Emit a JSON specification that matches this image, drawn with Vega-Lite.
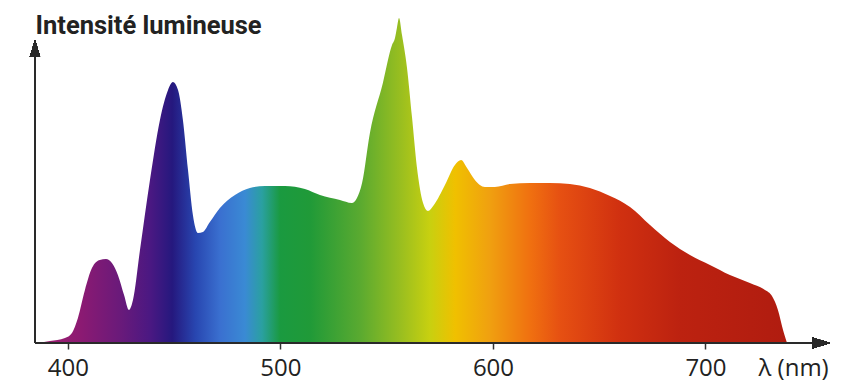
{
  "$schema": "https://vega.github.io/schema/vega-lite/v6.json",
  "width": 795,
  "height": 333,
  "autosize": "none",
  "padding": {"left": 35, "top": 10, "right": 20, "bottom": 48},
  "background": "white",
  "config": {"view": {"stroke": null}},
  "data": {"values": [
    {"lambda": 386, "intensity": 0},
    {"lambda": 391.5, "intensity": 2},
    {"lambda": 398.6, "intensity": 5},
    {"lambda": 401.9, "intensity": 10},
    {"lambda": 404.7, "intensity": 25},
    {"lambda": 408, "intensity": 53},
    {"lambda": 411.3, "intensity": 75},
    {"lambda": 415, "intensity": 83},
    {"lambda": 417.9, "intensity": 84},
    {"lambda": 420.7, "intensity": 80},
    {"lambda": 423.5, "intensity": 68},
    {"lambda": 426.4, "intensity": 48},
    {"lambda": 428.7, "intensity": 33},
    {"lambda": 430.6, "intensity": 43},
    {"lambda": 433.9, "intensity": 93},
    {"lambda": 438.6, "intensity": 163},
    {"lambda": 443.3, "intensity": 223},
    {"lambda": 447.1, "intensity": 253},
    {"lambda": 449.4, "intensity": 261},
    {"lambda": 451.8, "intensity": 253},
    {"lambda": 454.1, "intensity": 223},
    {"lambda": 456.5, "intensity": 173},
    {"lambda": 458.8, "intensity": 128},
    {"lambda": 461.2, "intensity": 110},
    {"lambda": 463.5, "intensity": 111},
    {"lambda": 466.8, "intensity": 121},
    {"lambda": 471.5, "intensity": 135},
    {"lambda": 478.6, "intensity": 148},
    {"lambda": 485.6, "intensity": 155},
    {"lambda": 492.7, "intensity": 157},
    {"lambda": 502.1, "intensity": 157},
    {"lambda": 511.5, "intensity": 154},
    {"lambda": 518.6, "intensity": 148},
    {"lambda": 528, "intensity": 143},
    {"lambda": 533.6, "intensity": 140},
    {"lambda": 536, "intensity": 145},
    {"lambda": 538.4, "intensity": 160},
    {"lambda": 542.1, "intensity": 210},
    {"lambda": 548.2, "intensity": 260},
    {"lambda": 552.5, "intensity": 298},
    {"lambda": 553.9, "intensity": 305},
    {"lambda": 554.8, "intensity": 315},
    {"lambda": 555.8, "intensity": 325},
    {"lambda": 557.2, "intensity": 308},
    {"lambda": 559.5, "intensity": 276},
    {"lambda": 561.9, "intensity": 226},
    {"lambda": 564.2, "intensity": 176},
    {"lambda": 567.1, "intensity": 140},
    {"lambda": 569.4, "intensity": 132},
    {"lambda": 572.2, "intensity": 138},
    {"lambda": 577.4, "intensity": 158},
    {"lambda": 582.1, "intensity": 178},
    {"lambda": 585, "intensity": 183},
    {"lambda": 587.8, "intensity": 175},
    {"lambda": 591.5, "intensity": 163},
    {"lambda": 596.2, "intensity": 156},
    {"lambda": 600.9, "intensity": 156},
    {"lambda": 608, "intensity": 159},
    {"lambda": 617.4, "intensity": 160},
    {"lambda": 626.8, "intensity": 160},
    {"lambda": 636.2, "intensity": 159},
    {"lambda": 645.6, "intensity": 155},
    {"lambda": 655.1, "intensity": 147},
    {"lambda": 664.5, "intensity": 136},
    {"lambda": 673.9, "intensity": 118},
    {"lambda": 683.3, "intensity": 101},
    {"lambda": 692.7, "intensity": 88},
    {"lambda": 702.1, "intensity": 78},
    {"lambda": 711.5, "intensity": 68},
    {"lambda": 720.9, "intensity": 60},
    {"lambda": 728, "intensity": 53},
    {"lambda": 731.3, "intensity": 47},
    {"lambda": 734.1, "intensity": 33},
    {"lambda": 736.5, "intensity": 13},
    {"lambda": 738.4, "intensity": 0}
  ]},
  "layer": [
    {
      "mark": {
        "type": "area",
        "interpolate": "monotone",
        "clip": false,
        "fill": {
          "gradient": "linear",
          "x1": 0, "y1": 0, "x2": 1, "y2": 0,
          "stops": [
            {"offset": 0, "color": "#a02070"},
            {"offset": 0.056, "color": "#8c1a72"},
            {"offset": 0.109, "color": "#6a1a7a"},
            {"offset": 0.15, "color": "#4a1882"},
            {"offset": 0.179, "color": "#25187e"},
            {"offset": 0.21, "color": "#2846b0"},
            {"offset": 0.243, "color": "#3a70d0"},
            {"offset": 0.276, "color": "#3a8ad4"},
            {"offset": 0.299, "color": "#2aa0a0"},
            {"offset": 0.323, "color": "#1a9a40"},
            {"offset": 0.363, "color": "#209a38"},
            {"offset": 0.43, "color": "#5aaa30"},
            {"offset": 0.483, "color": "#98be20"},
            {"offset": 0.523, "color": "#c8d010"},
            {"offset": 0.557, "color": "#f0c000"},
            {"offset": 0.603, "color": "#f0a010"},
            {"offset": 0.657, "color": "#f07010"},
            {"offset": 0.697, "color": "#e65012"},
            {"offset": 0.777, "color": "#d03010"},
            {"offset": 0.857, "color": "#bc2210"},
            {"offset": 1, "color": "#b01c10"}
          ]
        }
      },
      "encoding": {
        "x": {
          "field": "lambda", "type": "quantitative",
          "scale": {"domain": [384.5, 758.6], "nice": false, "zero": false},
          "axis": {
            "values": [400, 500, 600, 700],
            "domain": false,
            "grid": false,
            "tickSize": 6,
            "tickWidth": 1.5,
            "tickColor": "#333333",
            "labelFont": "Open Sans",
            "labelFontSize": 24,
            "labelColor": "#222222",
            "labelBaseline": "alphabetic",
            "labelPadding": 26,
            "title": "λ (nm)",
            "titleFont": "Open Sans",
            "titleFontSize": 24,
            "titleFontWeight": "normal",
            "titleColor": "#222222",
            "titleAlign": "left",
            "titleBaseline": "alphabetic",
            "titleAnchor": null,
            "titleX": 723,
            "titleY": 32
          }
        },
        "y": {
          "field": "intensity", "type": "quantitative",
          "scale": {"domain": [0, 333], "nice": false},
          "axis": {
            "domain": false,
            "grid": false,
            "ticks": false,
            "labels": false,
            "title": "Intensité lumineuse",
            "titleFont": "Roboto",
            "titleFontSize": 25.5,
            "titleFontWeight": "bold",
            "titleColor": "#222222",
            "titleAngle": 0,
            "titleAlign": "left",
            "titleBaseline": "alphabetic",
            "titleAnchor": null,
            "titleX": 0,
            "titleY": 23
          }
        }
      }
    },
    {
      "mark": {"type": "rule", "color": "#2a2a2a", "strokeWidth": 2},
      "encoding": {
        "x": {"datum": 384.5},
        "x2": {"datum": 750},
        "y": {"datum": 0}
      }
    },
    {
      "mark": {"type": "rule", "color": "#2a2a2a", "strokeWidth": 2},
      "encoding": {
        "x": {"datum": 384.5},
        "y": {"datum": 0},
        "y2": {"datum": 290}
      }
    },
    {
      "mark": {"type": "point", "filled": true, "color": "#2a2a2a", "opacity": 1, "shape": "M-1,-0.6L1,0L-1,0.6Z", "size": 324},
      "encoding": {
        "x": {"datum": 754.4},
        "y": {"datum": 0}
      }
    },
    {
      "mark": {"type": "point", "filled": true, "color": "#2a2a2a", "opacity": 1, "shape": "M-0.6,1L0,-1L0.6,1Z", "size": 289},
      "encoding": {
        "x": {"datum": 384.5},
        "y": {"datum": 294.5}
      }
    }
  ]
}
